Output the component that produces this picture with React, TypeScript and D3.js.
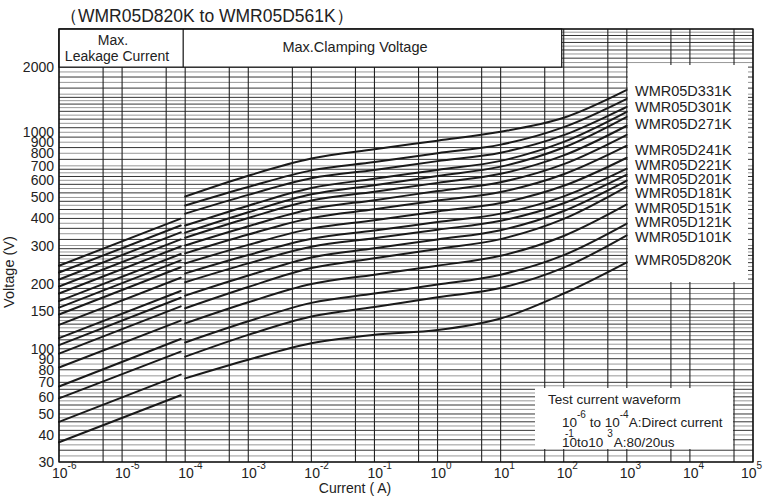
import React from 'react';
import * as d3 from 'd3';

const clampCurrents = [1e-4, 1e-3, 1e-2, 1e-1, 1, 10, 100, 1000];
// leakage lines: start and end current
const leakCurrents = [1e-6, 8.5e-5];

const models = [
  'WMR05D561K', 'WMR05D511K', 'WMR05D471K', 'WMR05D431K', 'WMR05D391K', 'WMR05D361K',
  'WMR05D331K', 'WMR05D301K', 'WMR05D271K', 'WMR05D241K', 'WMR05D221K', 'WMR05D201K',
  'WMR05D181K', 'WMR05D151K', 'WMR05D121K', 'WMR05D101K', 'WMR05D820K',
];

// max clamping voltage (V) per model at clampCurrents
const clampV = [
  [505, 630, 756, 835, 915, 1005, 1167, 1570],
  [459, 559, 667, 729, 801, 877, 1056, 1427],
  [421, 514, 613, 670, 736, 805, 970, 1311],
  [371, 458, 553, 610, 670, 738, 903, 1243],
  [344, 427, 517, 570, 629, 694, 851, 1179],
  [326, 402, 484, 532, 584, 643, 782, 1072],
  [300, 368, 442, 486, 535, 588, 713, 974],
  [276, 337, 402, 441, 484, 530, 640, 867],
  [248, 302, 359, 392, 431, 471, 566, 763],
  [223, 271, 322, 352, 385, 421, 506, 679],
  [203, 248, 296, 324, 355, 390, 470, 637],
  [176, 218, 264, 291, 320, 353, 433, 598],
  [154, 193, 236, 262, 289, 321, 398, 561],
  [131, 164, 199, 220, 242, 269, 332, 464],
  [107, 134, 163, 180, 198, 220, 271, 379],
  [92, 116, 141, 156, 173, 191, 237, 334],
  [73, 89, 106, 116, 122, 138, 180, 251],
];

// max leakage voltage (V) per model at leakCurrents
const leakV = [
  [242, 399], [225, 371], [209, 345], [194, 320], [180, 297], [166, 274],
  [155, 256], [144, 238], [129, 213], [112, 185], [104, 172], [95, 157],
  [82, 135], [67, 111], [59, 97], [46, 76], [37, 61],
];

const legendLabels = [
  'WMR05D331K', 'WMR05D301K', 'WMR05D271K', 'WMR05D241K', 'WMR05D221K', 'WMR05D201K',
  'WMR05D181K', 'WMR05D151K', 'WMR05D121K', 'WMR05D101K', 'WMR05D820K',
];

const yTickLabels = [2000, 1000, 900, 800, 700, 600, 500, 400, 300, 200, 150, 100, 90, 80, 70, 60, 50, 40, 30];
const xExponents = [-6, -5, -4, -3, -2, -1, 0, 1, 2, 3, 4, 5];

// graph paper divisions inside one decade
const gridMult = [
  1, 1.05, 1.1, 1.15, 1.2, 1.25, 1.3, 1.35, 1.4, 1.45, 1.5, 1.6, 1.7, 1.8, 1.9,
  2, 2.1, 2.2, 2.3, 2.4, 2.5, 2.6, 2.7, 2.8, 2.9, 3, 3.2, 3.4, 3.6, 3.8, 4, 4.2, 4.4, 4.6, 4.8,
  5, 5.25, 5.5, 5.75, 6, 6.25, 6.5, 6.75, 7, 7.5, 8, 8.5, 9, 9.5,
];

const FONT = '"Liberation Sans", Arial, Helvetica, sans-serif';

export default function App() {
  const W = 765, H = 498;
  const left = 59, right = 753, top = 29, bottom = 462;

  const x = d3.scaleLog().domain([1e-6, 1e5]).range([left, right]);
  const y = d3.scaleLog().domain([30, 3000]).range([bottom, top]);

  const hGrid: number[] = [];
  [10, 100, 1000].forEach(d => gridMult.forEach(m => {
    const v = +(m * d).toPrecision(6);
    if (v >= 30 && v <= 3000) hGrid.push(v);
  }));
  hGrid.push(3000);

  const vGrid: number[] = [];
  for (let e = -6; e <= 5; e++) {
    vGrid.push(Math.pow(10, e));
    if (e < 5) vGrid.push(5 * Math.pow(10, e));
  }

  const line = d3.line<[number, number]>()
    .x(d => x(d[0]))
    .y(d => y(d[1]))
    .curve(d3.curveCatmullRom.alpha(0.5));

  const legendBaselines = [96, 112, 129, 155, 170, 184, 198, 213, 227, 242, 265];
  const divX = x(1e-4) - 2;
  const headRight = x(100) - 2;

  return (
    <div style={{ position: 'fixed', left: 0, top: 0 }}>
      <svg width={W} height={H} style={{ display: 'block', background: '#fff' }} fontFamily={FONT}>
        <rect width={W} height={H} fill="#fff" />

        {/* graph paper */}
        <g>
          {hGrid.map((v, i) => (
            <line key={'h' + i} x1={left} x2={right} y1={y(v)} y2={y(v)}
              stroke={i % 2 ? '#8c8c8c' : '#1e1e1e'} strokeWidth={0.9} />
          ))}
          {vGrid.map((v, i) => (
            <line key={'v' + i} x1={x(v)} x2={x(v)} y1={top} y2={bottom}
              stroke="#222" strokeWidth={1.1} />
          ))}
        </g>

        {/* curves */}
        <g fill="none" stroke="#1a1a1a" strokeWidth={2} strokeLinecap="round">
          {leakV.map((vals, i) => (
            <path key={'l' + models[i]} d={line(vals.map((v, j) => [leakCurrents[j], v] as [number, number])) || ''} />
          ))}
          {clampV.map((vals, i) => (
            <path key={'c' + models[i]} d={line(vals.map((v, j) => [clampCurrents[j], v] as [number, number])) || ''} />
          ))}
        </g>

        {/* header boxes */}
        <rect x={left} y={top} width={headRight - left} height={y(2000) - top} fill="#fff" stroke="#111" strokeWidth={1.2} />
        <line x1={divX} x2={divX} y1={top} y2={y(2000)} stroke="#111" strokeWidth={1.2} />
        <text x={113} y={45} fontSize={14} textAnchor="middle" fill="#222">Max.</text>
        <text x={117} y={61} fontSize={14} textAnchor="middle" fill="#222">Leakage Current</text>
        <text x={355} y={52} fontSize={14.5} textAnchor="middle" fill="#222">Max.Clamping Voltage</text>

        {/* legend box */}
        <rect x={x(1000) + 1} y={65} width={748 - x(1000) - 1} height={282 - 65} fill="#fff" />
        {legendLabels.map((t, i) => (
          <text key={t} x={635} y={legendBaselines[i]} fontSize={14.5} fill="#222">{t}</text>
        ))}

        {/* test waveform box */}
        <rect x={535} y={388} width={x(5e4) - 535 - 1} height={61} fill="#fff" />
        <text x={548} y={404} fontSize={13.5} fill="#222">Test current waveform</text>
        <text x={562} y={427} fontSize={13.5} fill="#222">
          10<tspan dy={-9} fontSize={10}>-6</tspan>
          <tspan dy={9}> to 10</tspan><tspan dy={-9} fontSize={10}>-4</tspan>
          <tspan dy={9}>A:Direct current</tspan>
        </text>
        <text x={562} y={447} fontSize={13.5} fill="#222">
          10<tspan dx={-12} dy={-10} fontSize={10}>-1</tspan>
          <tspan dx={3} dy={10}>to10</tspan><tspan dx={4} dy={-10} fontSize={10}>3</tspan>
          <tspan dx={1} dy={10}>A:80/20us</tspan>
        </text>

        {/* frame */}
        <rect x={left} y={top} width={right - left} height={bottom - top} fill="none" stroke="#111" strokeWidth={1.3} />

        {/* y ticks */}
        {yTickLabels.map(v => (
          <text key={'yt' + v} x={54} y={y(v) + 5} fontSize={14} textAnchor="end" fill="#222">{v}</text>
        ))}
        {/* x ticks */}
        {xExponents.map(e => (
          <text key={'xt' + e} x={x(Math.pow(10, e)) - (e === 5 ? 12 : 7)} y={478} fontSize={14} fill="#222">
            10<tspan dx={0} dy={-9} fontSize={10}>{e}</tspan>
          </text>
        ))}

        <text x={355} y={493} fontSize={14} textAnchor="middle" fill="#222">Current ( A)</text>
        <text transform="translate(14,272) rotate(-90)" fontSize={14.5} textAnchor="middle" fill="#222">Voltage  (V)</text>

        <text x={60} y={22} fontSize={17.5} fill="#222">（WMR05D820K to WMR05D561K）</text>
      </svg>
    </div>
  );
}
